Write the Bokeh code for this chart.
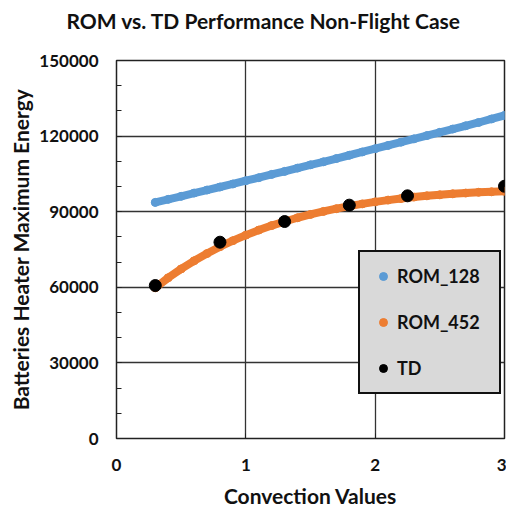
from bokeh.plotting import figure
from bokeh.models import Range1d, SingleIntervalTicker, Legend, LegendItem, ColumnDataSource, Title
from bokeh.embed import file_html
from bokeh.resources import INLINE

# ---- data ----
rom_x = [0.3, 0.4, 0.5, 0.6, 0.7, 0.8, 0.9, 1.0, 1.1, 1.2, 1.3, 1.4, 1.5, 1.6,
         1.7, 1.8, 1.9, 2.0, 2.1, 2.2, 2.3, 2.4, 2.5, 2.6, 2.7, 2.8, 2.9, 3.0]
rom_128 = [93700, 94900, 96100, 97400, 98600, 99800, 101000, 102300, 103500, 104800,
           106000, 107300, 108600, 109800, 111100, 112400, 113700, 115000, 116300,
           117600, 118900, 120200, 121500, 122800, 124100, 125400, 126800, 128200]
rom_452 = [59800, 63800, 67300, 70500, 73400, 76100, 78500, 80700, 82700, 84500,
           86100, 87600, 88900, 90100, 91200, 92200, 93100, 93900, 94600, 95200,
           95800, 96300, 96700, 97100, 97400, 97700, 97900, 98100]
td_x = [0.3, 0.8, 1.3, 1.8, 2.25, 3.0]
td_y = [60700, 77900, 86100, 92600, 96300, 100100]

x_ticks = [0, 1, 2, 3]
y_ticks = [0, 30000, 60000, 90000, 120000, 150000]
title_text = "ROM vs. TD Performance Non-Flight Case"

FONT = "Lato"
BLUE = "#5b9bd5"
ORANGE = "#ed7d31"

p = figure(width=506, height=512, output_backend="svg", toolbar_location=None,
           x_range=Range1d(0, 3), y_range=Range1d(0, 150000),
           min_border_left=116, min_border_right=2, min_border_top=60, min_border_bottom=74)
p.title = None

# spacer between frame and title (added first -> closest to the frame)
p.add_layout(Title(text=" ", text_font_size="8px", standoff=8), "above")
p.add_layout(Title(text=title_text, align="left", offset=-50, vertical_align="top",
                   text_font=FONT, text_font_size="21px", text_font_style="bold",
                   text_color="#111111", standoff=13), "above")

p.outline_line_color = "#222222"
p.outline_line_width = 1.5

# axes
p.xaxis.ticker = x_ticks
p.yaxis.ticker = SingleIntervalTicker(interval=30000, num_minor_ticks=3)
for ax in (p.xaxis[0], p.yaxis[0]):
    ax.axis_line_color = None
    ax.major_tick_in = 5
    ax.major_tick_out = 0
    ax.minor_tick_in = 5
    ax.minor_tick_out = 0
    ax.major_tick_line_color = "#222222"
    ax.minor_tick_line_color = "#222222"
    ax.major_label_text_font = FONT
    ax.major_label_text_font_size = "17px"
    ax.major_label_text_font_style = "bold"
    ax.major_label_text_color = "#111111"
    ax.axis_label_text_font = FONT
    ax.axis_label_text_font_style = "bold"
    ax.axis_label_text_color = "#111111"
p.xaxis.axis_label_text_font_size = "21px"
p.yaxis.axis_label_text_font_size = "21px"
p.xaxis.minor_tick_line_color = None
p.xaxis.major_label_standoff = 20
p.yaxis.major_label_standoff = 18
p.xaxis.axis_label = "Convection Values"
p.yaxis.axis_label = "Batteries Heater Maximum Energy"
p.xaxis.axis_label_standoff = 9
p.yaxis.axis_label_standoff = 3
p.yaxis.formatter.use_scientific = False

p.xgrid.ticker = x_ticks
p.ygrid.ticker = y_ticks
p.grid.grid_line_color = "#333333"
p.grid.grid_line_width = 1.3

src = ColumnDataSource(dict(x=rom_x, a=rom_128, b=rom_452))
p.line("x", "a", source=src, line_color=BLUE, line_width=8, line_cap="round")
ra = p.scatter("x", "a", source=src, size=8, color=BLUE)
p.line("x", "b", source=src, line_color=ORANGE, line_width=8, line_cap="round")
rb = p.scatter("x", "b", source=src, size=8, color=ORANGE)
td = p.scatter(td_x, td_y, size=12, color="black")

legend = Legend(items=[LegendItem(label="ROM_128", renderers=[ra]),
                       LegendItem(label="ROM_452", renderers=[rb]),
                       LegendItem(label="TD", renderers=[td])],
                location=(242, 44),
                background_fill_color="#d9d9d9", background_fill_alpha=1.0,
                border_line_color="#111111", border_line_width=2.5, border_line_alpha=1.0,
                padding=13, spacing=24, glyph_width=20, glyph_height=20,
                label_height=20, label_width=89, label_standoff=4,
                label_text_font=FONT, label_text_font_size="18px",
                label_text_font_style="bold", label_text_color="#111111",
                margin=0)
p.add_layout(legend, "center")

open("out.html", "w").write(file_html(p, INLINE))
